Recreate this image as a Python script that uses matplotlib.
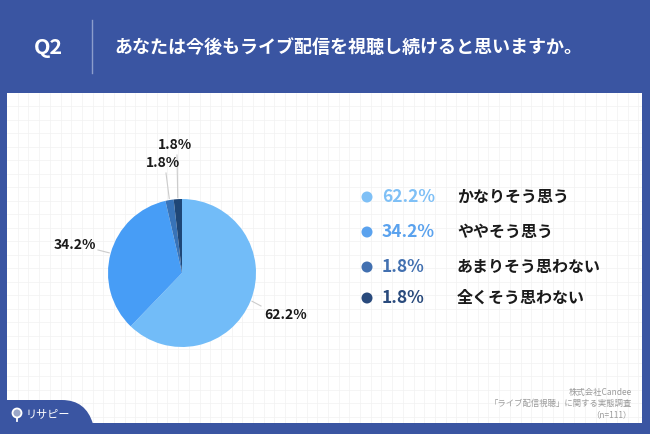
#!/usr/bin/env python3

import numpy as np
import matplotlib
matplotlib.use("Agg")
import matplotlib.pyplot as plt
from matplotlib.patches import Rectangle, Circle, PathPatch
from matplotlib.path import Path

plt.rcParams['font.family'] = ['Noto Sans CJK JP', 'DejaVu Sans']

# data
title = "あなたは今後もライブ配信を視聴し続けると思いますか。"
question = "Q2"
labels = ["かなりそう思う", "ややそう思う", "あまりそう思わない", "全くそう思わない"]
shares = [62.2, 34.2, 1.8, 1.8]
colors = ["#72bcf8", "#479df6", "#3873b8", "#1f4676"]
legend_colors = ["#7fc0f6", "#5aa2ee", "#4270b0", "#294a7c"]
notes = ["株式会社Candee", "「ライブ配信視聴」に関する実態調査", "（n=111）"]

BG = "#3a55a2"

fig = plt.figure(figsize=(6.5, 4.34), dpi=100)
fig.patch.set_facecolor(BG)

# full-figure axes in pixel coordinates
ax = fig.add_axes([0, 0, 1, 1])
ax.set_xlim(0, 650)
ax.set_ylim(434, 0)
ax.axis("off")

# white panel with faint grid
panel = Rectangle((7, 93), 635, 330, facecolor="white", edgecolor="none")
ax.add_patch(panel)
for x in np.arange(7 + 10.7, 642, 10.7):
    ln, = ax.plot([x, x], [93, 423], color="#f2f2f2", lw=0.5, zorder=1)
    ln.set_clip_path(panel)
for y in np.arange(93 + 13, 423, 13.5):
    ln, = ax.plot([7, 642], [y, y], color="#f2f2f2", lw=0.5, zorder=1)
    ln.set_clip_path(panel)

# header
ax.text(48, 47, question, color="white", fontsize=15.5, fontweight="bold",
        ha="center", va="center")
ax.plot([92, 92], [20, 73], color="#8c9dcc", lw=1)
ax.text(114, 47, title, color="white", fontsize=13, fontweight="bold",
        ha="left", va="center")

# bottom-left tab with logo
verts = [(7, 424), (7, 400), (62, 400), (86, 400), (93, 424), (7, 424)]
codes = [Path.MOVETO, Path.LINETO, Path.LINETO, Path.CURVE3, Path.CURVE3, Path.CLOSEPOLY]
ax.add_patch(PathPatch(Path(verts, codes), facecolor=BG, edgecolor="none", zorder=3))
ax.add_patch(Circle((17, 413), 4.5, facecolor="#9aa6c8", edgecolor="white", lw=1.3, zorder=4))
ax.plot([17, 17], [417.5, 421], color="white", lw=1.3, zorder=4)
ax.text(26, 414, "リサピー", color="white", fontsize=8, ha="left", va="center", zorder=4)

# footnote
for i, note in enumerate(notes):
    ax.text(632, 392 + i * 11.5, note, color="#9a9a9a", fontsize=6,
            ha="right", va="center")

# pie
cx, cy, r = 182, 273, 74
pax = fig.add_axes([(cx - r) / 650, (434 - cy - r) / 434, 2 * r / 650, 2 * r / 434])
wedges, _ = pax.pie(shares, colors=colors, startangle=90, counterclock=False,
                    radius=1, wedgeprops=dict(linewidth=0))
pax.set_xlim(-1, 1)
pax.set_ylim(-1, 1)
pax.set_aspect("equal")
pax.axis("off")

# outside labels with leader lines (text offsets in pixels)
label_pos = [(264, 315, "left"), (96, 245, "right"), (163, 163, "center"), (175, 145, "center")]
line_end = [(261, 306), (98, 250), (166, 173), (177, 155)]
for w, (tx, ty, ha), (lx, ly), s in zip(wedges, label_pos, line_end, shares):
    ang = np.deg2rad((w.theta1 + w.theta2) / 2)
    sx = cx + 1.02 * r * np.cos(ang)
    sy = cy - 1.02 * r * np.sin(ang)
    ax.plot([sx, lx], [sy, ly], color="#cccccc", lw=0.8, zorder=2)
    ax.text(tx, ty, f"{s}%", fontsize=10, fontweight="bold", color="#1a1a1a",
            ha=ha, va="center", zorder=3)

# legend
ys = [197, 232, 267, 298]
for y, lab, s, c in zip(ys, labels, shares, legend_colors):
    ax.add_patch(Circle((367, y), 5.5, facecolor=c, edgecolor="none", zorder=3))
    ax.text(382, y, f"{s}%", color=c, fontsize=12.5, fontweight="bold",
            ha="left", va="center", zorder=3)
    ax.text(457, y, lab, color="#1a1a1a", fontsize=11.5, fontweight="bold",
            ha="left", va="center", zorder=3)

fig.savefig("out.png", dpi=100, facecolor=BG)
